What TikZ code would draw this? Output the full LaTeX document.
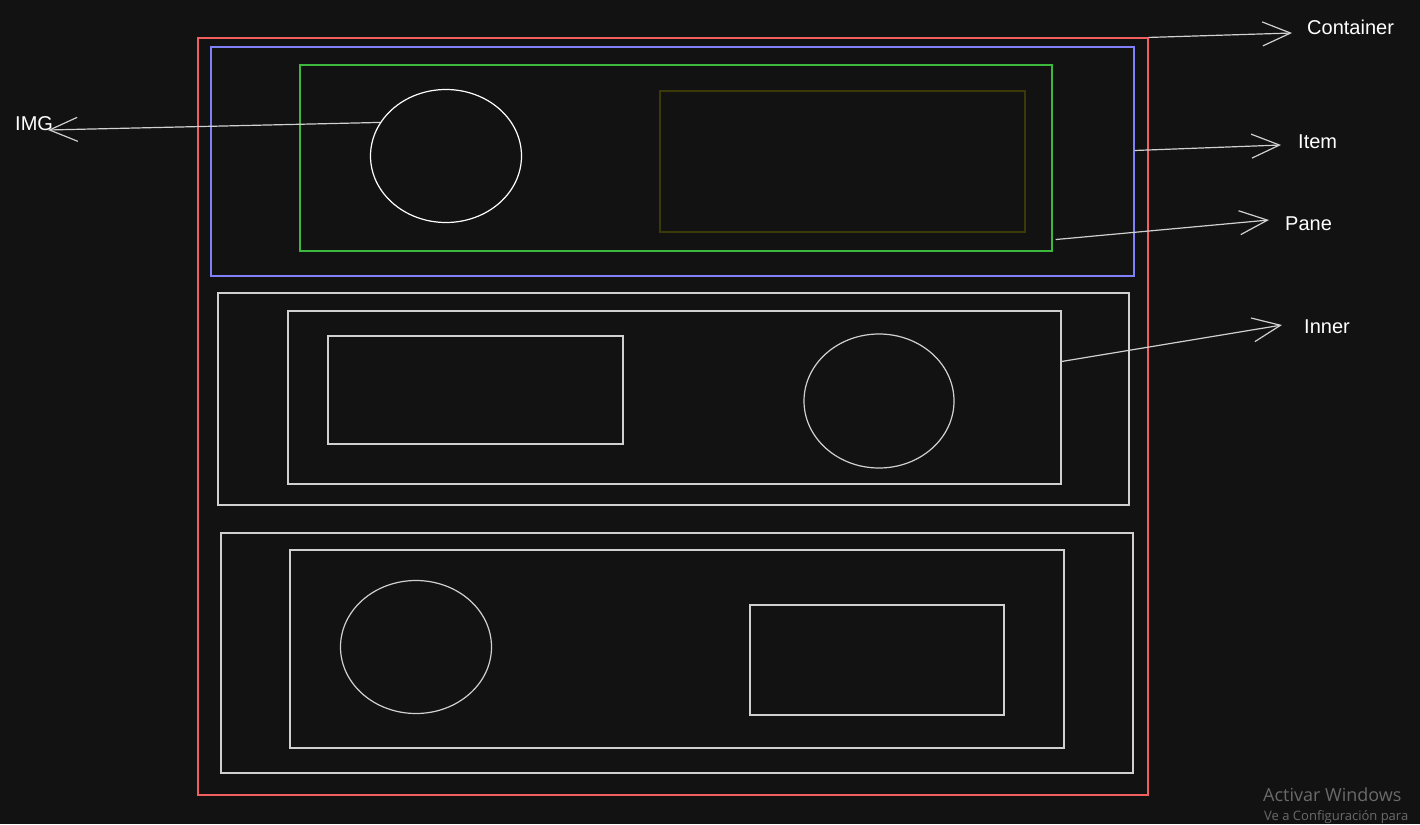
\documentclass[tikz,border=0pt]{standalone}
\usepackage{fontspec}
\setmainfont{Liberation Sans}
\newfontfamily\wmfont{Open Sans}
\usetikzlibrary{arrows.meta,shapes.geometric}
\definecolor{bg}{HTML}{121212}
\definecolor{cred}{HTML}{F06060}
\definecolor{cblue}{HTML}{8080F8}
\definecolor{cgreen}{HTML}{3CB83C}
\definecolor{colive}{HTML}{3A3A08}
\definecolor{cline}{HTML}{D0D0D0}
\definecolor{cwm}{HTML}{6A6A6A}
\tikzset{
  box/.style={draw=#1, line width=1.1pt, minimum width=0pt, minimum height=0pt, inner sep=0pt},
  ell/.style={draw=#1, line width=1.2pt, ellipse, inner sep=0pt},
  lbl/.style={text=white, font=\fontsize{20}{24}\selectfont, inner sep=1pt},
  pointer/.style={draw=cline, line width=1.2pt, -{Straight Barb[length=28pt,width=24pt,line width=1.2pt]}},
}
\begin{document}
\begin{tikzpicture}[x=1pt,y=-1pt]
\fill[bg] (0,0) rectangle (1420,824);
\useasboundingbox (0,0) rectangle (1420,824);
\clip (0,0) rectangle (1420,824);
% row 1
\node[box=cred, minimum width=950pt, minimum height=757pt] (container) at (673,416.5) {};
\node[box=cblue, minimum width=923pt, minimum height=229pt] (item) at (672.5,161.5) {};
\node[box=cgreen, minimum width=752pt, minimum height=186pt] (pane) at (676,158) {};
\node[box=colive, minimum width=365pt, minimum height=141pt] (olive) at (842.5,161.5) {};
\node[ell=white, minimum width=151pt, minimum height=133pt] (img1) at (446,156) {};
% row 2
\node[box=cline, minimum width=911pt, minimum height=212pt] (item2) at (673.5,399) {};
\node[box=cline, minimum width=773pt, minimum height=173pt] (inner2) at (674.5,397.5) {};
\node[box=cline, minimum width=295pt, minimum height=108pt] (rect2) at (475.5,390) {};
\node[ell=cline, minimum width=150pt, minimum height=134pt] (img2) at (879,401) {};
% row 3
\node[box=cline, minimum width=912pt, minimum height=240pt] (item3) at (677,653) {};
\node[box=cline, minimum width=774pt, minimum height=198pt] (inner3) at (677,649) {};
\node[ell=cline, minimum width=151pt, minimum height=133pt] (img3) at (416,647) {};
\node[box=cline, minimum width=254pt, minimum height=110pt] (rect3) at (877,660) {};
% labels
\node[lbl, anchor=west] (lcontainer) at (1306,27) {Container};
\node[lbl, anchor=west] (litem) at (1297,142) {Item};
\node[lbl, anchor=west] (lpane) at (1284,224) {Pane};
\node[lbl, anchor=west] (linner) at (1303,327) {Inner};
\node[lbl, anchor=west] (limg) at (14,124) {IMG};
% arrow tips
\coordinate (tcontainer) at (1292,33);
\coordinate (titem) at (1281,145);
\coordinate (tpane) at (1269,220);
\coordinate (tinner) at (1282,325);
\coordinate (timg) at (48,130);
\draw[pointer] (container.north east) -- (tcontainer);
\draw[pointer] ([yshift=11pt]item.east) -- (titem);
\draw[pointer] ([xshift=3pt,yshift=12pt]pane.south east) -- (tpane);
\draw[pointer] ([yshift=36pt]inner2.east) -- (tinner);
\draw[pointer] (img1.153) -- (timg);
% watermark
\node[anchor=west, text=cwm, font=\wmfont\fontsize{18}{20}\selectfont, inner sep=0pt] (wm1) at (1263,795) {Activar Windows};
\node[anchor=west, text=cwm, font=\wmfont\fontsize{13}{15}\selectfont, inner sep=0pt] (wm2) at (1264,817) {Ve a Configuración para};
\end{tikzpicture}
\end{document}
